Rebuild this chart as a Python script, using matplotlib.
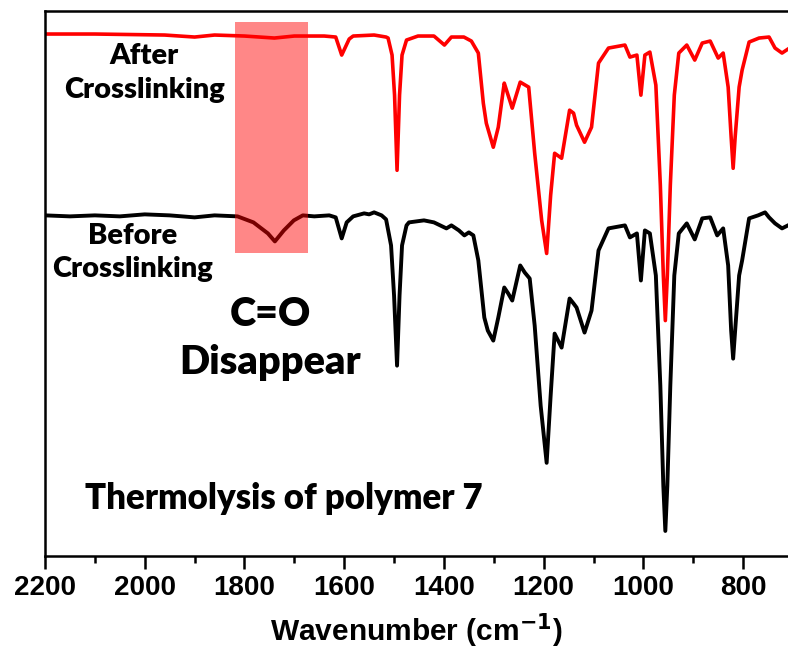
import matplotlib.pyplot as plt
from matplotlib.patches import Rectangle

# FTIR spectra (wavenumber in cm-1, transmittance in a.u.)
wn_after = [2200, 2100, 1960, 1900, 1860, 1800, 1740, 1700, 1640, 1617, 1605, 1590, 1582,
            1540, 1516, 1512, 1504, 1499, 1494, 1489, 1484, 1475, 1452, 1420, 1399, 1385,
            1360, 1345, 1331, 1321, 1315, 1301, 1291, 1281, 1279, 1263, 1247, 1230, 1218,
            1204, 1194, 1186, 1178, 1164, 1148, 1140, 1134, 1118, 1104, 1090, 1070, 1037,
            1027, 1013, 1005, 997, 987, 975, 966, 960, 956, 952, 946, 938, 929, 913, 897,
            882, 866, 850, 840, 830, 824, 820, 816, 808, 802, 788, 768, 748, 736, 722, 710]
t_after = [521, 521, 520, 518, 520, 519, 517, 519, 519, 518, 500, 516, 519,
           520, 518, 517, 500, 460, 385, 460, 500, 515, 519, 519, 510, 518,
           518, 514, 502, 452, 432, 408, 428, 465, 472, 447, 473, 468, 402,
           335, 302, 360, 402, 397, 445, 442, 430, 413, 428, 492, 507, 510,
           498, 500, 460, 500, 503, 470, 370, 280, 235, 280, 370, 460, 502, 510, 495,
           512, 514, 497, 502, 468, 418, 387, 418, 468, 485, 513, 517, 518, 507, 502, 506]

wn_before = [2200, 2150, 2100, 2050, 2000, 1950, 1900, 1860, 1814, 1782, 1753, 1739, 1721,
             1701, 1683, 1660, 1630, 1617, 1605, 1595, 1582, 1560, 1550, 1540, 1525, 1516,
             1506, 1500, 1494, 1489, 1484, 1475, 1470, 1440, 1420, 1395, 1385, 1370, 1359,
             1350, 1341, 1331, 1319, 1312, 1301, 1291, 1279, 1271, 1263, 1247, 1238, 1228,
             1218, 1206, 1194, 1186, 1178, 1164, 1148, 1140, 1134, 1118, 1104, 1090, 1070,
             1037, 1027, 1013, 1005, 997, 987, 975, 966, 960, 956, 952, 946, 938, 929, 913,
             897, 882, 866, 852, 840, 830, 824, 820, 816, 808, 802, 788, 770, 756, 748, 736,
             722, 710]
t_before = [340, 339, 340, 339, 341, 340, 338, 340, 339, 333, 322, 314, 325,
            335, 340, 339, 340, 338, 317, 333, 339, 342, 341, 343, 340, 336,
            310, 260, 190, 260, 310, 330, 333, 335, 333, 327, 330, 325, 320,
            323, 320, 295, 238, 225, 215, 238, 268, 262, 255, 290, 283, 277,
            230, 150, 93, 160, 222, 208, 257, 252, 248, 223, 245, 305, 327,
            330, 318, 322, 275, 325, 322, 280, 170, 70, 25, 70, 170, 280, 322, 332,
            316, 337, 338, 320, 327, 290, 225, 197, 225, 280, 295, 337, 340, 343, 338, 332,
            327, 330]

xticks = [2200, 2000, 1800, 1600, 1400, 1200, 1000, 800]

fig = plt.figure(figsize=(7.88, 6.5), dpi=100)
ax = fig.add_axes([0.0571, 0.1446, 0.9429, 0.8385])

ax.plot(wn_after, t_after, '-', color='red', linewidth=2.6)
ax.plot(wn_before, t_before, '-', color='black', linewidth=2.8)

# C=O region highlight
ax.add_patch(Rectangle((1818, 302), -145, 231, facecolor='red', alpha=0.47,
                       edgecolor='none', zorder=5))

txt = dict(family='Lato', fontweight='heavy', ha='center', va='center')
ax.text(2001, 482, "After\nCrosslinking", fontsize=21, linespacing=1.37, **txt)
ax.text(2025, 303, "Before\nCrosslinking", fontsize=21, linespacing=1.37, **txt)
ax.text(1748, 217, "C=O\nDisappear", fontsize=28.5, linespacing=1.37, **txt)
ax.text(2120, 57, "Thermolysis of polymer 7", family='Lato', fontweight='heavy',
        fontsize=25, ha='left', va='center')

ax.set_xlim(2200, 710)
ax.set_ylim(0, 544)
ax.set_xticks(xticks)
ax.set_xticks(range(2100, 700, -200), minor=True)
ax.set_yticks([])
ax.set_xticklabels([str(t) for t in xticks], family='Liberation Sans',
                   fontweight='bold', fontsize=20)
ax.tick_params(axis='x', which='major', direction='out', length=9, width=1.8, pad=5)
ax.tick_params(axis='x', which='minor', direction='out', length=5, width=1.8)
ax.set_xlabel('Wavenumber (cm$^{\\mathbf{-1}}$)', family='Liberation Sans',
              fontweight='bold', fontsize=21.5, labelpad=7)
for s in ['left', 'top', 'bottom']:
    ax.spines[s].set_linewidth(1.8)
ax.spines['right'].set_visible(False)

fig.savefig('out.png', dpi=100)
